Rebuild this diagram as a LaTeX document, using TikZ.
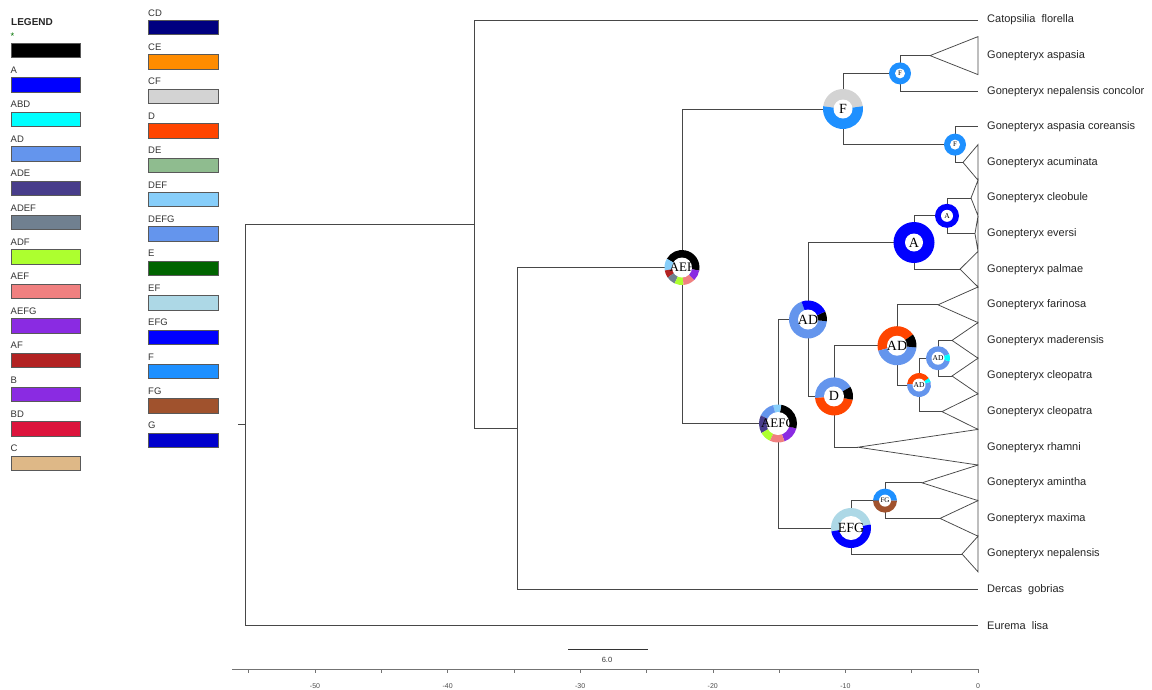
\documentclass[tikz,border=0pt]{standalone}
\usepackage{fontspec}
\setmainfont{Liberation Sans}
\newfontfamily\ser{Liberation Serif}
\usetikzlibrary{calc}
\definecolor{cA}{HTML}{0000FF}
\definecolor{cABD}{HTML}{00FFFF}
\definecolor{cAD}{HTML}{6495ED}
\definecolor{cADE}{HTML}{483D8B}
\definecolor{cADEF}{HTML}{708090}
\definecolor{cADF}{HTML}{ADFF2F}
\definecolor{cAEF}{HTML}{F08080}
\definecolor{cAEFG}{HTML}{8A2BE2}
\definecolor{cAF}{HTML}{B22222}
\definecolor{cB}{HTML}{8A2BE2}
\definecolor{cBD}{HTML}{DC143C}
\definecolor{cC}{HTML}{DEB887}
\definecolor{cCD}{HTML}{000080}
\definecolor{cCE}{HTML}{FF8C00}
\definecolor{cCF}{HTML}{D3D3D3}
\definecolor{cD}{HTML}{FF4500}
\definecolor{cDE}{HTML}{8FBC8F}
\definecolor{cDEF}{HTML}{87CEFA}
\definecolor{cDEFG}{HTML}{6495ED}
\definecolor{cE}{HTML}{006400}
\definecolor{cEF}{HTML}{ADD8E6}
\definecolor{cEFG}{HTML}{0000FF}
\definecolor{cF}{HTML}{1E90FF}
\definecolor{cFG}{HTML}{A0522D}
\definecolor{cG}{HTML}{0000CD}
\newcommand{\seg}[5]{\fill[#5] (#1) -- ++(#2:#4pt) arc[start angle=#2, end angle=#3, radius=#4pt] -- cycle;}
\newcommand{\hole}[2]{\fill[white] (#1) circle[radius=#2pt];}
\begin{document}
\begin{tikzpicture}[x=1pt,y=-1pt,
  edge/.style={draw=black!72, line width=0.75pt},
  legbox/.style={draw=black!65, line width=0.6pt, minimum width=69.5pt, minimum height=14.3pt, anchor=north west, inner sep=0},
  leglab/.style={anchor=base west, inner sep=0, font=\fontsize{9.5}{11}\selectfont, text=black!80},
  taxon/.style={anchor=west, inner sep=0, font=\fontsize{11}{13}\selectfont, text=black!85},
  dlab/.style={inner sep=0, text=black},
  axisline/.style={draw=black!55, line width=0.8pt},
  axlab/.style={inner sep=0, font=\fontsize{7}{8}\selectfont, text=black!70}]
\useasboundingbox (0,0) rectangle (1152,689);
\fill[white] (0,0) rectangle (1152,689);

% ---------- legend ----------
\node[anchor=base west, inner sep=0, font=\bfseries\fontsize{10}{12}\selectfont, text=black!85] (legtitle) at (11,25) {LEGEND};
\foreach \lab/\col [count=\i from 0] in {{\textcolor{green!45!black}{*}}/black, A/cA, ABD/cABD, AD/cAD, ADE/cADE, ADEF/cADEF, ADF/cADF, AEF/cAEF, AEFG/cAEFG, AF/cAF, B/cB, BD/cBD, C/cC} {
  \pgfmathsetmacro\yt{43+34.4*\i}
  \node[legbox, fill=\col] (lbA\i) at (10.5,\yt) {};
  \node[leglab] (llA\i) at (10.5,\yt-4) {\lab};
}
\foreach \lab/\col [count=\i from 0] in {CD/cCD, CE/cCE, CF/cCF, D/cD, DE/cDE, DEF/cDEF, DEFG/cDEFG, E/cE, EF/cEF, EFG/cEFG, F/cF, FG/cFG, G/cG} {
  \pgfmathsetmacro\yt{20+34.4*\i}
  \node[legbox, fill=\col] (lbB\i) at (148,\yt) {};
  \node[leglab] (llB\i) at (148,\yt-4) {\lab};
}

% ---------- tips and labels ----------
\foreach \ax/\txt [count=\i] in {978/{Catopsilia\ \ florella}, 930/{Gonepteryx aspasia}, 978/{Gonepteryx nepalensis concolor}, 978/{Gonepteryx aspasia coreansis}, 963/{Gonepteryx acuminata}, 971/{Gonepteryx cleobule}, 975/{Gonepteryx eversi}, 960/{Gonepteryx palmae}, 938/{Gonepteryx farinosa}, 952/{Gonepteryx maderensis}, 952/{Gonepteryx cleopatra}, 942/{Gonepteryx cleopatra}, 858/{Gonepteryx rhamni}, 922/{Gonepteryx amintha}, 940/{Gonepteryx maxima}, 962/{Gonepteryx nepalensis}, 978/{Dercas\ \ gobrias}, 978/{Eurema\ \ lisa}} {
  \pgfmathsetmacro\ty{20+35.6*(\i-1)}
  \coordinate (tip\i) at (\ax,\ty);
  \node[taxon] (lab\i) at (987,\ty) {\txt};
}

% collapsed clades (triangles)
\foreach \i/\h in {2/19, 5/17.8, 6/17.8, 7/17.8, 8/17.8, 9/17.8, 10/17.8, 11/17.8, 12/17.8, 13/17.8, 14/17.8, 15/17.8, 16/17.8} {
  \pgfmathsetmacro\ty{20+35.6*(\i-1)}
  \draw[edge, line join=miter] (tip\i) -- (978,\ty-\h) -- (978,\ty+\h) -- cycle;
}

% ---------- internal nodes ----------
\coordinate (rootstub) at (238,424.6);
\coordinate (root) at (245,424.6);
\coordinate (n1) at (474,224);
\coordinate (n2) at (517,428);
\coordinate (AEF) at (682,267.5);
\coordinate (Fbig) at (843,109);
\coordinate (Fs1) at (900,73.4);
\coordinate (Fs2) at (955,144.6);
\coordinate (AEFG) at (778,423.5);
\coordinate (AD) at (808,319.5);
\coordinate (Abig) at (914,242.5);
\coordinate (Asm) at (947,215.8);
\coordinate (D) at (834,396.4);
\coordinate (ADr) at (897,345.7);
\coordinate (ADsr) at (919,385);
\coordinate (ADb) at (938,358.2);
\coordinate (EFG) at (851,528);
\coordinate (FG) at (885,500.6);

% ---------- edges ----------
\draw[edge] (rootstub) -- (root);
\draw[edge] (root) |- (n1);
\draw[edge] (root) |- (tip18);
\draw[edge] (n1) |- (tip1);
\draw[edge] (n1) |- (n2);
\draw[edge] (n2) |- (AEF);
\draw[edge] (n2) |- (tip17);
\draw[edge] (AEF) |- (Fbig);
\draw[edge] (AEF) |- (AEFG);
\draw[edge] (Fbig) |- (Fs1);
\draw[edge] (Fbig) |- (Fs2);
\draw[edge] (Fs1) |- (tip2);
\draw[edge] (Fs1) |- (tip3);
\draw[edge] (Fs2) |- (tip4);
\draw[edge] (Fs2) |- (tip5);
\draw[edge] (AEFG) |- (AD);
\draw[edge] (AEFG) |- (EFG);
\draw[edge] (AD) |- (Abig);
\draw[edge] (AD) |- (D);
\draw[edge] (Abig) |- (Asm);
\draw[edge] (Abig) |- (tip8);
\draw[edge] (Asm) |- (tip6);
\draw[edge] (Asm) |- (tip7);
\draw[edge] (D) |- (ADr);
\draw[edge] (D) |- (tip13);
\draw[edge] (ADr) |- (tip9);
\draw[edge] (ADr) |- (ADsr);
\draw[edge] (ADsr) |- (ADb);
\draw[edge] (ADsr) |- (tip12);
\draw[edge] (ADb) |- (tip10);
\draw[edge] (ADb) |- (tip11);
\draw[edge] (EFG) |- (FG);
\draw[edge] (EFG) |- (tip16);
\draw[edge] (FG) |- (tip14);
\draw[edge] (FG) |- (tip15);

% ---------- ancestral state donuts ----------
% AEF
\seg{AEF}{-10}{150}{17.5}{black}
\seg{AEF}{150}{190}{17.5}{cDEF}
\seg{AEF}{190}{215}{17.5}{cAF}
\seg{AEF}{215}{245}{17.5}{cADEF}
\seg{AEF}{245}{275}{17.5}{cADF}
\seg{AEF}{275}{315}{17.5}{cAEF}
\seg{AEF}{315}{350}{17.5}{cAEFG}
\hole{AEF}{10}
\node[dlab, font=\ser\fontsize{13}{13}\selectfont] (lAEF) at (AEF) {AEF};
% AEFG
\seg{AEFG}{-70}{-15}{19}{cAEFG}
\seg{AEFG}{-15}{80}{19}{black}
\seg{AEFG}{80}{105}{19}{cDEF}
\seg{AEFG}{105}{155}{19}{cAD}
\seg{AEFG}{155}{210}{19}{cADE}
\seg{AEFG}{210}{245}{19}{cADF}
\seg{AEFG}{245}{290}{19}{cAEF}
\hole{AEFG}{11.5}
\node[dlab, font=\ser\fontsize{13}{13}\selectfont] (lAEFG) at (AEFG) {AEFG};
% F big
\seg{Fbig}{8}{172}{20}{cCF}
\seg{Fbig}{172}{368}{20}{cF}
\hole{Fbig}{9.5}
\node[dlab, font=\ser\fontsize{14}{14}\selectfont] (lFbig) at (Fbig) {F};
% F small
\fill[cF] (Fs1) circle[radius=11pt];
\hole{Fs1}{5}
\node[dlab, font=\ser\fontsize{7}{7}\selectfont] (lFs1) at (Fs1) {F};
\fill[cF] (Fs2) circle[radius=11pt];
\hole{Fs2}{5}
\node[dlab, font=\ser\fontsize{7}{7}\selectfont] (lFs2) at (Fs2) {F};
% A big / small
\fill[cA] (Abig) circle[radius=20.5pt];
\hole{Abig}{9}
\node[dlab, font=\ser\fontsize{14}{14}\selectfont] (lAbig) at (Abig) {A};
\fill[cA] (Asm) circle[radius=12pt];
\hole{Asm}{6}
\node[dlab, font=\ser\fontsize{7.5}{7.5}\selectfont] (lAsm) at (Asm) {A};
% AD
\seg{AD}{110}{355}{19}{cAD}
\seg{AD}{-5}{25}{19}{black}
\seg{AD}{25}{110}{19}{cA}
\hole{AD}{10}
\node[dlab, font=\ser\fontsize{14}{14}\selectfont] (lAD) at (AD) {AD};
% D
\seg{D}{30}{185}{19}{cAD}
\seg{D}{185}{350}{19}{cD}
\seg{D}{-10}{30}{19}{black}
\hole{D}{10}
\node[dlab, font=\ser\fontsize{14}{14}\selectfont] (lD) at (D) {D};
% AD (red)
\seg{ADr}{35}{195}{19.5}{cD}
\seg{ADr}{195}{355}{19.5}{cAD}
\seg{ADr}{-5}{35}{19.5}{black}
\hole{ADr}{10}
\node[dlab, font=\ser\fontsize{14}{14}\selectfont] (lADr) at (ADr) {AD};
% AD small blue
\seg{ADb}{20}{345}{12}{cAD}
\seg{ADb}{-15}{20}{12}{cABD}
\hole{ADb}{6.5}
\node[dlab, font=\ser\fontsize{7.5}{7.5}\selectfont] (lADb) at (ADb) {AD};
% AD small red
\seg{ADsr}{35}{175}{12}{cD}
\seg{ADsr}{175}{375}{12}{cAD}
\seg{ADsr}{15}{35}{12}{cABD}
\hole{ADsr}{6.5}
\node[dlab, font=\ser\fontsize{7.5}{7.5}\selectfont] (lADsr) at (ADsr) {AD};
% EFG
\seg{EFG}{10}{190}{20}{cEF}
\seg{EFG}{190}{370}{20}{cEFG}
\hole{EFG}{12}
\node[dlab, font=\ser\fontsize{14}{14}\selectfont] (lEFG) at (EFG) {EFG};
% FG
\seg{FG}{0}{180}{12}{cF}
\seg{FG}{180}{360}{12}{cFG}
\hole{FG}{6}
\node[dlab, font=\ser\fontsize{7}{7}\selectfont] (lFG) at (FG) {FG};

% ---------- scale bar ----------
\coordinate (sbL) at (568,649);
\coordinate (sbR) at (648,649);
\draw[draw=black!80, line width=0.8pt] (sbL) -- (sbR);
\node[inner sep=0, font=\fontsize{7.5}{9}\selectfont, text=black!80] (sblab) at (607,660) {6.0};

% ---------- axis ----------
\coordinate (axL) at (232,669);
\coordinate (axR) at (978,669);
\draw[axisline] (axL) -- (axR);
\foreach \k in {0,...,11} {
  \draw[axisline, line width=0.6pt] ({978-66.3*\k},669) -- ++(0,4);
}
\foreach \v [count=\j] in {-50,-40,-30,-20,-10,0} {
  \node[axlab] (axl\j) at ({978+13.26*\v},686) {\v};
}
\end{tikzpicture}
\end{document}
